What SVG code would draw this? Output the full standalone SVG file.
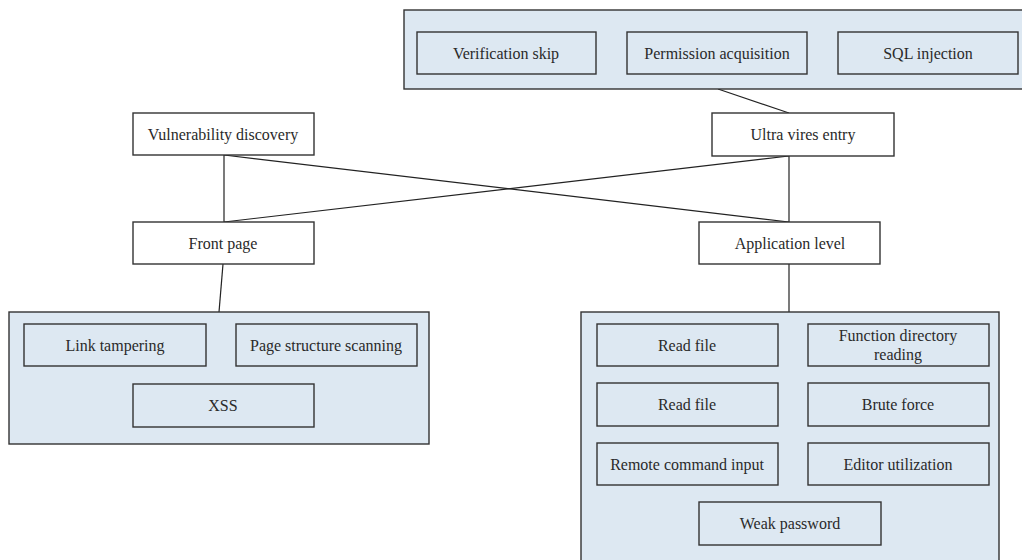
<svg xmlns="http://www.w3.org/2000/svg" width="1022" height="560" viewBox="0 0 1022 560">
<style>
.grp{fill:#dde8f2;stroke:#333;stroke-width:1.4}
.box{fill:#dde8f2;stroke:#333;stroke-width:1.4}
.node{fill:#fff;stroke:#333;stroke-width:1.4}
.t{font-family:"Liberation Serif",serif;font-size:16px;fill:#2a2a2a;text-anchor:middle;dominant-baseline:central}
.c{stroke:#222;stroke-width:1.2;fill:none}
</style>
<rect width="1022" height="560" fill="#fff"/>
<g id="connectors">
<line class="c" x1="718" y1="89" x2="789" y2="113"/>
<line class="c" x1="224" y1="155" x2="224" y2="222"/>
<line class="c" x1="224" y1="155" x2="789" y2="222"/>
<line class="c" x1="789" y1="156" x2="224" y2="222"/>
<line class="c" x1="789" y1="156" x2="789" y2="222"/>
<line class="c" x1="223" y1="264" x2="219" y2="312"/>
<line class="c" x1="789" y1="264" x2="789" y2="312"/>
</g>
<g id="ultra-group">
<rect class="grp" x="404" y="10" width="630" height="79"/>
<g id="verification-skip"><rect class="box" x="417" y="32" width="179" height="42"/><text class="t" x="506" y="53">Verification skip</text></g>
<g id="permission-acquisition"><rect class="box" x="627" y="32" width="180" height="42"/><text class="t" x="717" y="53">Permission acquisition</text></g>
<g id="sql-injection"><rect class="box" x="838" y="32" width="180" height="42"/><text class="t" x="928" y="53">SQL injection</text></g>
</g>
<g id="vulnerability-discovery"><rect class="node" x="133" y="113" width="181" height="42"/><text class="t" x="223" y="134">Vulnerability discovery</text></g>
<g id="ultra-vires-entry"><rect class="node" x="712" y="113" width="182" height="43"/><text class="t" x="803" y="134">Ultra vires entry</text></g>
<g id="front-page"><rect class="node" x="133" y="222" width="181" height="42"/><text class="t" x="223" y="243">Front page</text></g>
<g id="application-level"><rect class="node" x="699" y="222" width="181" height="42"/><text class="t" x="790" y="243">Application level</text></g>
<g id="front-group">
<rect class="grp" x="9" y="312" width="420" height="132"/>
<g id="link-tampering"><rect class="box" x="24" y="324" width="182" height="42"/><text class="t" x="115" y="345">Link tampering</text></g>
<g id="page-structure-scanning"><rect class="box" x="236" y="324" width="181" height="42"/><text class="t" x="326" y="345">Page structure scanning</text></g>
<g id="xss"><rect class="box" x="133" y="384" width="181" height="43"/><text class="t" x="223" y="405">XSS</text></g>
</g>
<g id="app-group">
<rect class="grp" x="581" y="312" width="418" height="260"/>
<g id="read-file-1"><rect class="box" x="597" y="324" width="181" height="42"/><text class="t" x="687" y="345">Read file</text></g>
<g id="function-directory-reading"><rect class="box" x="808" y="324" width="181" height="42"/><text class="t" x="898" y="335">Function directory</text><text class="t" x="898" y="354">reading</text></g>
<g id="read-file-2"><rect class="box" x="597" y="383" width="181" height="43"/><text class="t" x="687" y="404">Read file</text></g>
<g id="brute-force"><rect class="box" x="808" y="383" width="181" height="43"/><text class="t" x="898" y="404">Brute force</text></g>
<g id="remote-command-input"><rect class="box" x="597" y="443" width="181" height="42"/><text class="t" x="687" y="464">Remote command input</text></g>
<g id="editor-utilization"><rect class="box" x="808" y="443" width="181" height="42"/><text class="t" x="898" y="464">Editor utilization</text></g>
<g id="weak-password"><rect class="box" x="699" y="502" width="182" height="43"/><text class="t" x="790" y="523">Weak password</text></g>
</g>
</svg>
